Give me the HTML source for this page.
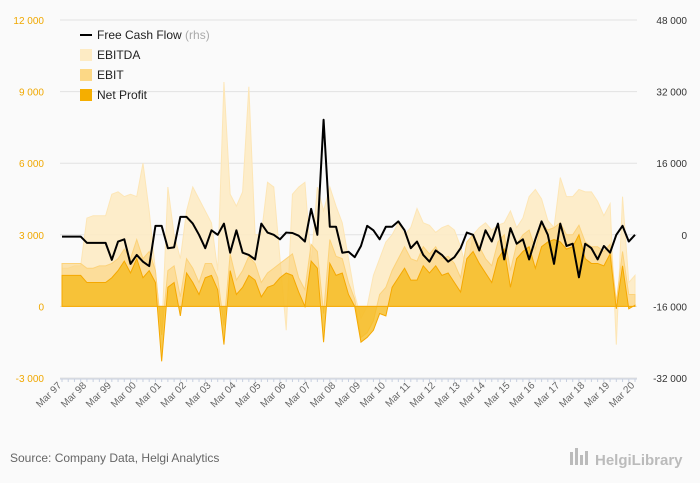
<!DOCTYPE html>
<html><head><meta charset="utf-8"><style>
body{margin:0;background:#fafafa;font-family:"Liberation Sans",sans-serif}
svg{display:block}
</style></head><body>
<svg id="c" width="700" height="483" xmlns="http://www.w3.org/2000/svg">
<rect width="700" height="483" fill="#fafafa"/>
<g id="grid"></g><g id="areas"></g><g id="line"></g><g id="axes"></g>
<g font-size="12" fill="#222">
<line x1="80" y1="35" x2="92" y2="35" stroke="#000" stroke-width="2"/>
<text x="97" y="39">Free Cash Flow <tspan fill="#aaa">(rhs)</tspan></text>
<rect x="80" y="49" width="12" height="12" fill="#fdebc4"/>
<text x="97" y="59">EBITDA</text>
<rect x="80" y="69" width="12" height="12" fill="#fcd886"/>
<text x="97" y="79">EBIT</text>
<rect x="80" y="89" width="12" height="12" fill="#f5ae00"/>
<text x="97" y="99">Net Profit</text>
</g>
<text x="10" y="462" font-size="12" fill="#666">Source: Company Data, Helgi Analytics</text>
<g>
<rect x="570" y="452" width="3" height="13" fill="#bbb"/><rect x="575" y="448" width="3" height="17" fill="#bbb"/><rect x="580" y="455" width="3" height="10" fill="#bbb"/><rect x="585" y="451" width="3" height="14" fill="#bbb"/>
<text x="595" y="465" font-size="15" fill="#bbb" font-weight="bold">HelgiLibrary</text>
</g>
</svg>
<script>
const labels=["Mar 97","Mar 98","Mar 99","Mar 00","Mar 01","Mar 02","Mar 03","Mar 04","Mar 05","Mar 06","Mar 07","Mar 08","Mar 09","Mar 10","Mar 11","Mar 12","Mar 13","Mar 14","Mar 15","Mar 16","Mar 17","Mar 18","Mar 19","Mar 20"];
const leftTicks=[-3000,0,3000,6000,9000,12000];
const rightTicks=[-32000,-16000,0,16000,32000,48000];
const netProfit=[1300,1300,1300,1300,1000,1000,1000,1000,1200,1500,1900,1400,2000,1200,1500,1000,-2300,800,1000,-400,1400,1000,500,1200,1300,700,-1600,1500,500,800,1300,1100,400,800,900,1200,1400,1300,600,0,1900,1600,-1500,1800,1300,1400,500,0,-1500,-1300,-1000,-300,-400,800,1200,1600,1100,1100,1700,1400,1700,1300,1400,1000,600,2000,2300,1800,1400,1000,2000,2400,800,2000,2300,2500,1600,2500,2700,2800,2700,2400,2500,3000,2000,1800,1800,1700,2200,-100,1700,-100,50];
const ebit=[1800,1800,1800,1800,1600,1600,1700,1700,1800,2000,2400,2000,2800,2000,2300,1500,-1200,1500,1700,400,2000,1600,1000,1800,1800,1200,-800,2200,1100,1500,2100,1800,1000,1400,1600,1800,2000,2200,1200,700,2600,2300,-300,2800,2100,2000,1000,300,-1300,-1100,-600,500,800,1500,2000,2500,2000,1900,2500,2200,2500,2000,2100,1800,1200,2700,3000,2500,2000,1700,2700,3000,1500,2600,3000,3200,2400,3500,3200,3300,3500,3000,3000,3400,2700,2500,2500,2300,2600,200,2300,500,500];
const ebitda=[1600,1600,1700,1700,3700,3800,3800,3800,4700,4800,4600,4700,4600,6000,4000,1500,-1200,5000,3000,2000,4000,5000,4500,4000,3500,1500,9400,4700,4200,4800,9200,3000,3000,5200,5000,2000,-1000,4700,5000,5200,1800,5000,4000,5000,4200,3500,2000,500,-500,0,1300,2000,2700,3000,3500,3000,3300,4100,3500,3400,3100,3300,3400,3200,2500,1500,3000,3300,3500,3200,3400,3500,4000,3300,3700,4600,4900,4500,3600,3300,5400,4600,4600,4900,4800,4800,4400,3800,4300,-1600,4600,1000,1300];
const fcf=[-400,-400,-400,-400,-1800,-1800,-1800,-1800,-5600,-1500,-1000,-6500,-4500,-6000,-7000,2000,2000,-3000,-2800,4000,4000,2500,0,-3000,1000,0,2500,-4000,1000,-4000,-4500,-5500,2500,500,0,-1000,500,400,-200,-1500,5800,0,25700,1800,1800,-4000,-3800,-5000,-2500,2000,1000,-1000,1800,1800,3000,1000,-3000,-1500,-4500,-6000,-3500,-4500,-6000,-5000,-3000,500,0,-3500,1000,-1500,2500,-5500,1500,-2000,-1000,-5500,-1000,3000,0,-6500,2500,-2500,-2000,-9500,-2000,-3000,-5500,-2500,-4000,0,2000,-1500,0];

const NS='http://www.w3.org/2000/svg';
const X0=62,X1=635,YT=20,YB=378;
const xs=i=>X0+(X1-X0)*i/(netProfit.length-1);
const yl=v=>YB-(v+3000)/15000*(YB-YT);
const yr=v=>YB-(v+32000)/80000*(YB-YT);
function mk(t,a,p){const e=document.createElementNS(NS,t);for(const k in a)e.setAttribute(k,a[k]);p.appendChild(e);return e;}
const grid=document.getElementById('grid'),axes=document.getElementById('axes');
leftTicks.forEach((v,k)=>{
 const g=mk('line',{x1:X0-2,x2:X1+2,y1:yl(v),y2:yl(v),stroke:'#e2e2e2','stroke-width':1},grid);
 
 
 const t=mk('text',{x:44,y:yl(v)+4,'text-anchor':'end','font-size':10,fill:'#f0a800'},axes);
 t.textContent=v.toLocaleString('en').replace(/,/g,' ');
 
 
});
rightTicks.forEach(v=>{
 const t=mk('text',{x:687,y:yr(v)+4,'text-anchor':'end','font-size':10,fill:'#333'},axes);
 t.textContent=v.toLocaleString('en').replace(/,/g,' ');
 
 
});
const ax=mk('line',{x1:X0-2,x2:X1+2,y1:YB+1,y2:YB+1,stroke:'#c8d0e0'},axes);


for(let i=0;i<netProfit.length;i++){const tk=mk('line',{x1:xs(i),x2:xs(i),y1:YB+1,y2:YB+4,stroke:'#c8d0e0'},axes);
 
 }
labels.forEach((l,k)=>{
 const x=xs(k*4);
 const t=mk('text',{x:x,y:YB+8,'text-anchor':'end','font-size':10,fill:'#666',transform:`rotate(-45 ${x} ${YB+8})`},axes);
 t.textContent=l;
 
 
});
const areas=document.getElementById('areas');
function area(arr,fill,stroke,op,name){
 let d=`M${xs(0)},${yl(0)}`;arr.forEach((v,i)=>d+=`L${xs(i)},${yl(v)}`);d+=`L${xs(arr.length-1)},${yl(0)}Z`;
 const p=mk('path',{d:d,fill:fill,'fill-opacity':op,stroke:stroke,'stroke-width':1},areas);
 
 
}
area(ebitda,'#fdebc4','#fde6b6',0.9,'ebitda-area');
area(ebit,'#fcd27a','#fcd27a',0.6,'ebit-area');
area(netProfit,'#f6b817','#f5a800',0.75,'net-profit-area');
let d='';fcf.forEach((v,i)=>d+=(i?'L':'M')+xs(i)+','+yr(v));
const ln=mk('path',{d:d,fill:'none',stroke:'#000','stroke-width':2,'stroke-linejoin':'round'},document.getElementById('line'));


</script>
</body></html>
